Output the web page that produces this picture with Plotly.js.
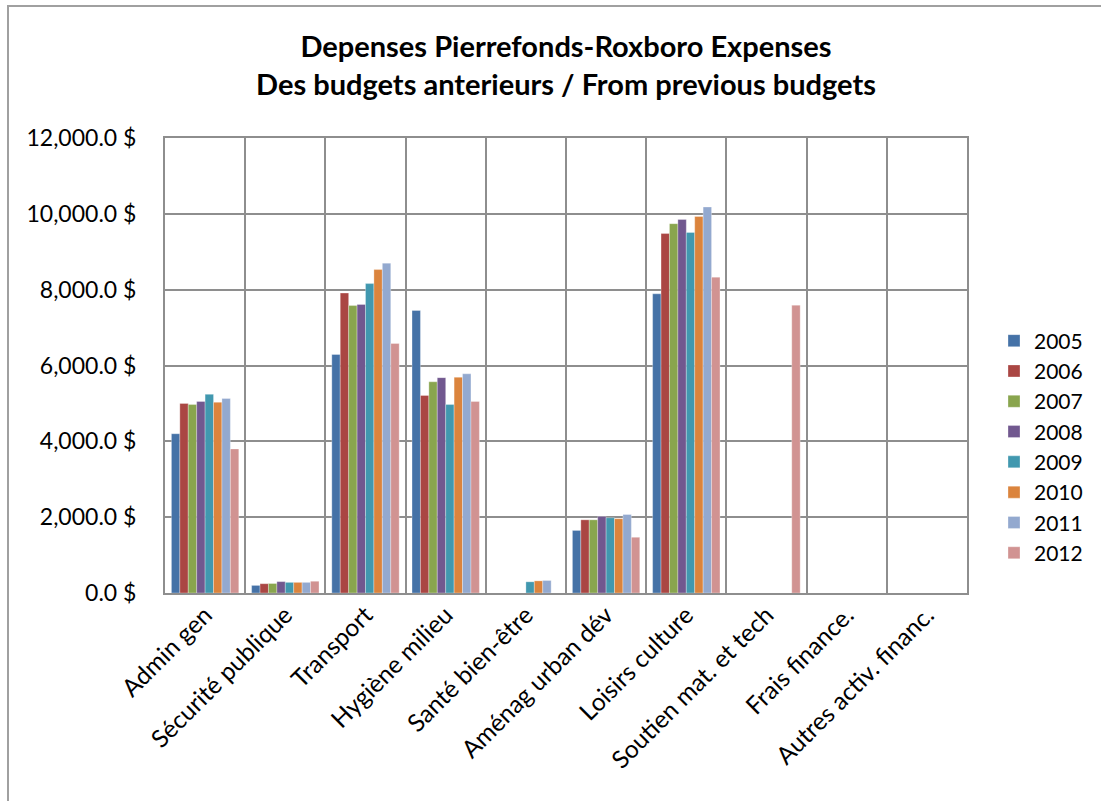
<!DOCTYPE html>
<html>
<head>
<meta charset="utf-8">
<script src="https://cdn.plot.ly/plotly-3.0.1.min.js"></script>
<style>
  html, body { margin: 0; padding: 0; background: #fff; }
  #chart { width: 1101px; height: 801px; }
</style>
</head>
<body>
<div id="chart"></div>
<script>
// Budget categories (x axis)
const categories = [
  "Admin gen", "Sécurité publique", "Transport", "Hygiène milieu",
  "Santé bien-être", "Aménag urban dév", "Loisirs culture",
  "Soutien mat. et tech", "Frais finance.", "Autres activ. financ."
];

// Expenses per year, same order as categories
const y2005 = [4200, 200, 6290, 7450, 0, 1650, 7890, 0, 0, 0];
const y2006 = [5000, 245, 7910, 5210, 0, 1930, 9480, 0, 0, 0];
const y2007 = [4970, 250, 7580, 5570, 0, 1930, 9740, 0, 0, 0];
const y2008 = [5050, 300, 7610, 5680, 0, 2020, 9850, 0, 0, 0];
const y2009 = [5240, 280, 8160, 4970, 295, 1985, 9510, 0, 0, 0];
const y2010 = [5030, 280, 8530, 5690, 320, 1960, 9930, 0, 0, 0];
const y2011 = [5130, 280, 8700, 5780, 330, 2070, 10180, 0, 0, 0];
const y2012 = [3800, 310, 6580, 5050, 0, 1470, 8330, 7590, 0, 0];

const years = ["2005", "2006", "2007", "2008", "2009", "2010", "2011", "2012"];
const series = [y2005, y2006, y2007, y2008, y2009, y2010, y2011, y2012];
const colors = ["#4572A7", "#AA4643", "#89A54E", "#71588F",
                "#4198AF", "#DB843D", "#93A9CF", "#D19392"];

const FONT = "Lato, 'Open Sans', sans-serif";

const traces = years.map((yr, i) => ({
  type: "bar",
  name: yr,
  x: categories,
  y: series[i],
  marker: { color: colors[i], line: { color: "rgba(255,255,255,0.6)", width: 0.5 } },
  hovertemplate: "%{x}<br>" + yr + ": %{y:,.1f} $<extra></extra>"
}));

// Plot area in pixels: left 165, right 967, top 138, bottom 593
const L = 165, R = 1101 - 967, T = 138, B = 801 - 593;
const W = 1101 - L - R, H = 801 - T - B;
const px = (p) => (p - L) / W;
const py = (p) => (801 - B - p) / H;

const layout = {
  width: 1101,
  height: 801,
  margin: { l: L, r: R, t: T, b: B, pad: 0, autoexpand: false },
  paper_bgcolor: "#ffffff",
  plot_bgcolor: "#ffffff",
  font: { family: FONT, size: 22, color: "#000" },
  title: {
    text: "<b>Depenses Pierrefonds-Roxboro Expenses<br>Des budgets anterieurs / From previous budgets</b>",
    font: { family: FONT, size: 29, color: "#000" },
    x: 0.5, xref: "paper", xanchor: "center",
    y: 1 - 57 / 801, yanchor: "middle"
  },
  barmode: "group",
  bargap: 0.16,
  bargroupgap: 0,
  xaxis: {
    type: "category",
    tickangle: -45,
    tickson: "boundaries",
    ticks: "",
    showgrid: true,
    gridcolor: "#8E8E8E",
    gridwidth: 1.5,
    showline: true,
    linecolor: "#8E8E8E",
    linewidth: 2,
    mirror: true,
    ticklabelstandoff: -4,
    tickfont: { family: FONT, size: 24.5, color: "#000" },
    fixedrange: true
  },
  yaxis: {
    range: [0, 12000],
    dtick: 2000,
    tickformat: ",.1f",
    ticksuffix: " $",
    showgrid: true,
    gridcolor: "#8E8E8E",
    gridwidth: 1.5,
    zeroline: false,
    showline: true,
    linecolor: "#8E8E8E",
    linewidth: 2,
    mirror: true,
    ticks: "",
    ticklabelstandoff: 22,
    tickfont: { family: FONT, size: 23, color: "#000" },
    fixedrange: true
  },
  legend: {
    x: px(994), xanchor: "left",
    y: py(447), yanchor: "middle",
    font: { family: FONT, size: 21, color: "#000" },
    bgcolor: "rgba(0,0,0,0)",
    itemwidth: 30,
    traceorder: "normal"
  },
  shapes: [{
    type: "rect", xref: "paper", yref: "paper",
    x0: px(8), x1: px(1110), y0: py(6), y1: py(810),
    line: { color: "#A0A0A0", width: 2 },
    fillcolor: "rgba(0,0,0,0)",
    layer: "below"
  }],
  showlegend: true
};

Plotly.newPlot("chart", traces, layout, { displayModeBar: false });
</script>
</body>
</html>
